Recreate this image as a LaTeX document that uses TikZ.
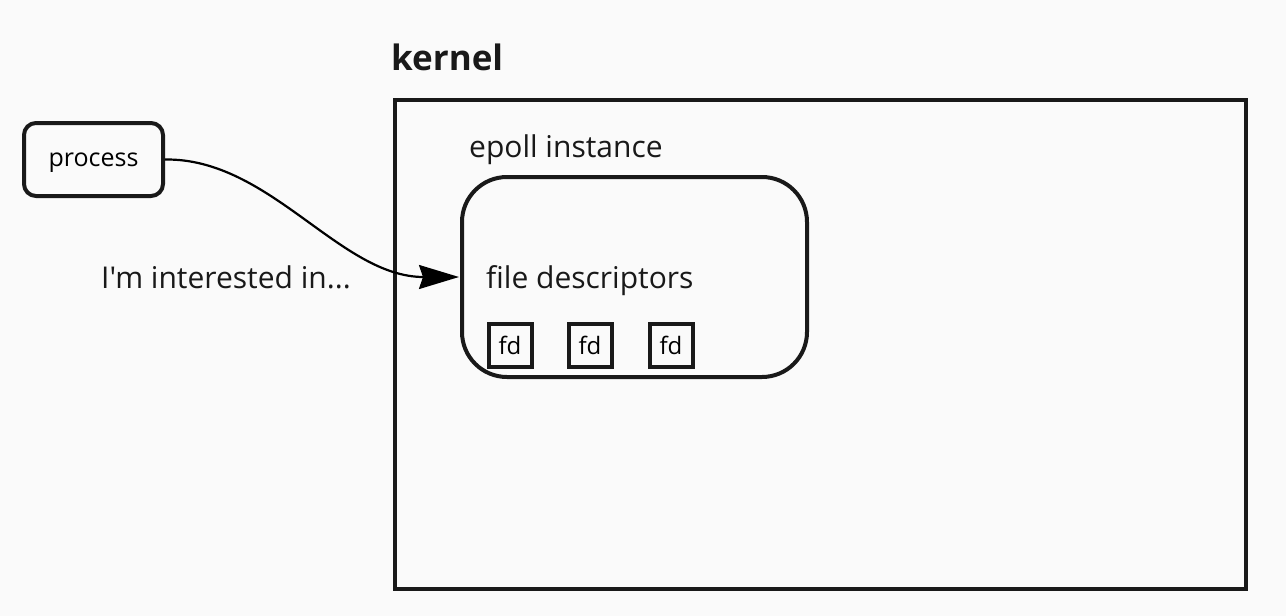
\documentclass[tikz,border=0pt]{standalone}
\usepackage{fontspec}
\setmainfont{Open Sans}[Ligatures=TeXOff]
\usetikzlibrary{arrows.meta}
\begin{document}
\begin{tikzpicture}[x=1pt,y=-1pt,
  box/.style={draw=black!90, line width=4pt, inner sep=0pt},
  lbl/.style={inner sep=0pt, anchor=base west, text=black!90},
  fdbox/.style={box, minimum width=43pt, minimum height=43pt, font=\fontsize{24}{28}\selectfont},
]
\useasboundingbox[fill=white!98!black] (0,0) rectangle (1286,616);
\node[box, minimum width=851pt, minimum height=489pt] (kernel) at (820.5,344.5) {};
\node[lbl, font=\fontsize{35}{40}\selectfont\bfseries] (klabel) at (391,70) {kernel};
\node[box, rounded corners=45pt, minimum width=345pt, minimum height=200pt] (epoll) at (634.5,277) {};
\node[lbl, font=\fontsize{30}{35}\selectfont] (elabel) at (469,157) {epoll instance};
\node[lbl, font=\fontsize{30}{35}\selectfont] (fdlabel) at (486,288) {file descriptors};
\node[fdbox] (fd1) at (510,345) {fd};
\node[fdbox] (fd2) at (590,345) {fd};
\node[fdbox] (fd3) at (671,345) {fd};
\node[box, rounded corners=12pt, minimum width=139pt, minimum height=73pt, text depth=0pt, font=\fontsize{25}{29}\selectfont] (proc) at (93.5,159.5) {process};
\node[lbl, font=\fontsize{30}{35}\selectfont] (interest) at (101,288) {I'm interested in...};
\coordinate (tip) at (459,277);
\draw[line width=2.2pt, -{Stealth[length=40pt, width=24pt, inset=4pt]}] (proc.east) .. controls (270,158) and (340,277) .. (tip);
\end{tikzpicture}
\end{document}
